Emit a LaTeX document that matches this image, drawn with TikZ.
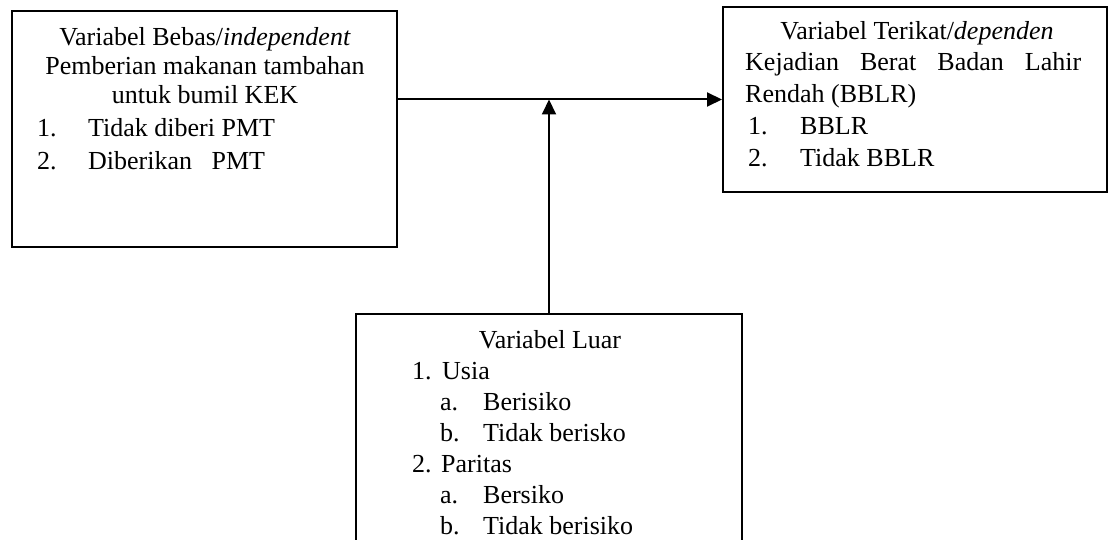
\documentclass[tikz,border=0pt]{standalone}
\usepackage{fontspec}
\setmainfont{Liberation Serif}
\usetikzlibrary{arrows.meta, positioning}

\begin{document}
\begin{tikzpicture}[x=1pt, y=-1pt, font=\fontsize{26}{31}\selectfont]
		\tikzstyle{Box} = [rectangle, draw=black, line width=2pt, inner sep=0pt]
		\tikzstyle{Txt} = [anchor=base west, inner sep=0pt]
		\tikzstyle{Mid} = [anchor=base, inner sep=0pt]
		\tikzstyle{arrow} = [line width=2pt, -{Triangle[length=15pt, width=14pt]}]
		
		\useasboundingbox (0,0) rectangle (1109,540);
		\clip (0,0) rectangle (1109,540);
		
		\node (bebas) [Box, minimum width=385pt, minimum height=236pt] at (204.5,129) {};
		\node (bebas1) [Mid] at (205,46) {Variabel Bebas/\textit{independent}};
		\node (bebas2) [Mid] at (205,75) {Pemberian makanan tambahan};
		\node (bebas3) [Mid] at (205,104) {untuk bumil KEK};
		\node (n1) [Txt] at (37,137) {1.};
		\node (t1) [Txt] at (88,137) {Tidak diberi PMT};
		\node (n2) [Txt] at (37,170) {2.};
		\node (t2) [Txt] at (88,170) {Diberikan~~~PMT};
		
		\node (terikat) [Box, minimum width=384pt, minimum height=185pt] at (915,99.5) {};
		\node (terikat1) [Mid] at (917,40) {Variabel Terikat/\textit{dependen}};
		\node (terikat2) [Txt] at (745,71) {\makebox[336pt][s]{Kejadian Berat Badan Lahir}};
		\node (terikat3) [Txt] at (745,103) {Rendah (BBLR)};
		\node (m1) [Txt] at (748,135) {1.};
		\node (s1) [Txt] at (800,135) {BBLR};
		\node (m2) [Txt] at (748,167) {2.};
		\node (s2) [Txt] at (800,167) {Tidak BBLR};
		
		\node (luar) [Box, minimum width=386pt, minimum height=246pt] at (549,437) {};
		\node (luar1) [Mid] at (550,348) {Variabel Luar};
		\node (k1) [Txt] at (412,379) {1.};
		\node (usia) [Txt] at (442,379) {Usia};
		\node (k1a) [Txt] at (440,410) {a.};
		\node (usia1) [Txt] at (483,410) {Berisiko};
		\node (k1b) [Txt] at (440,441) {b.};
		\node (usia2) [Txt] at (483,441) {Tidak berisko};
		\node (k2) [Txt] at (412,472) {2.};
		\node (paritas) [Txt] at (441,472) {Paritas};
		\node (k2a) [Txt] at (440,503) {a.};
		\node (paritas1) [Txt] at (483,503) {Bersiko};
		\node (k2b) [Txt] at (440,534) {b.};
		\node (paritas2) [Txt] at (483,534) {Tidak berisiko};
		
		\coordinate (junction) at (luar.north |- terikat.west);
		\draw [arrow] (bebas.east |- terikat.west) -- (terikat.west);
		\draw [arrow] (luar.north) -- (junction);
\end{tikzpicture}
\end{document}
